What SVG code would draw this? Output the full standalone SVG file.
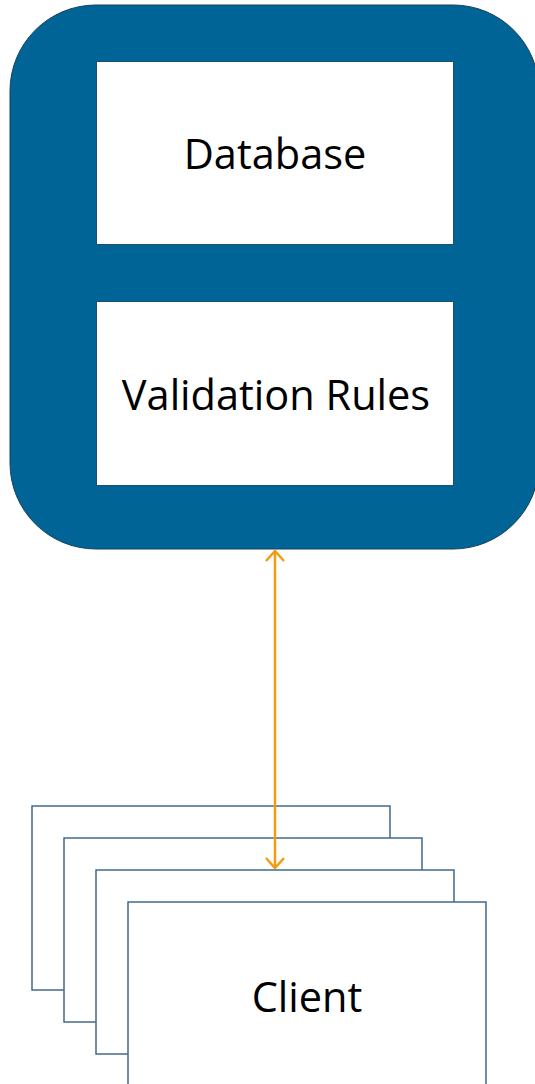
<svg xmlns="http://www.w3.org/2000/svg" width="535" height="1084" viewBox="0 0 535 1084">
<style>
.lbl{font-family:"Open Sans","Liberation Sans",sans-serif;font-size:41.5px;fill:#000;text-anchor:middle}
.inner{fill:#fff;stroke:#1d4f6e;stroke-width:1}
.client{fill:#fff;stroke:#3f6b86;stroke-width:1.5}
.conn{stroke:#f39c12;stroke-width:2.5;fill:none}
</style>
<defs>
<marker id="open" viewBox="0 0 12 20" refX="11" refY="10" markerWidth="12" markerHeight="20" markerUnits="userSpaceOnUse" orient="auto-start-reverse">
<path d="M1,1 L11,10 L1,19" fill="none" stroke="#f39c12" stroke-width="2.5"/>
</marker>
</defs>
<g id="server">
<rect x="10" y="5" width="529" height="544" rx="86" ry="86" fill="#006496" stroke="#13405a" stroke-width="1"/>
</g>
<g id="database">
<rect class="inner" x="96.5" y="61.5" width="357" height="183"/>
<text class="lbl" x="275" y="169">Database</text>
</g>
<g id="validation">
<rect class="inner" x="96.5" y="301.5" width="357" height="184"/>
<text class="lbl" x="276" y="410">Validation Rules</text>
</g>
<g id="clients">
<rect class="client" x="32" y="806" width="358" height="184"/>
<rect class="client" x="64" y="838" width="358" height="184"/>
<rect class="client" x="96" y="870" width="358" height="184"/>
<rect class="client" x="128" y="902" width="358" height="190"/>
<text class="lbl" x="307" y="1012">Client</text>
</g>
<g id="connectors">
<line class="conn" x1="275" y1="551" x2="275" y2="868" marker-start="url(#open)" marker-end="url(#open)"/>
</g>
</svg>
